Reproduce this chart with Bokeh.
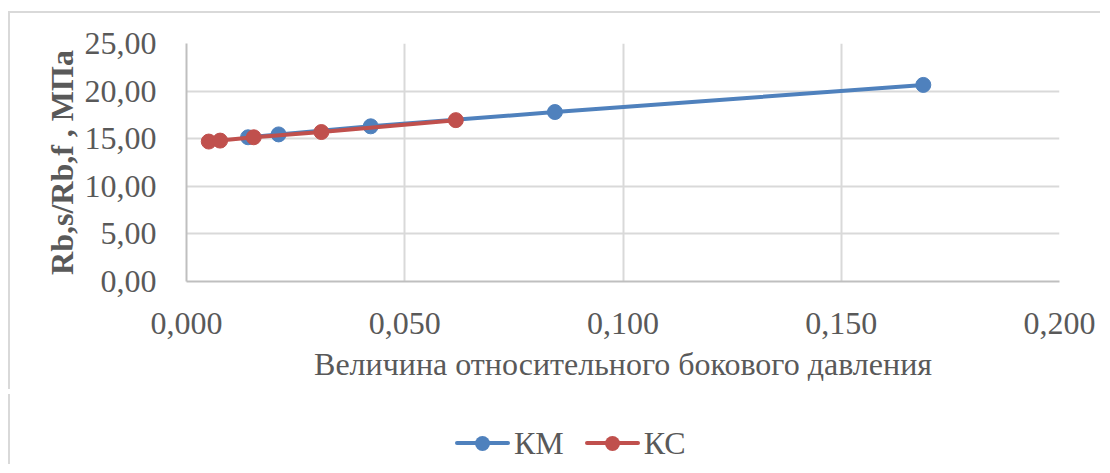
from bokeh.plotting import figure
from bokeh.layouts import column
from bokeh.models import Range1d, FixedTicker, CustomJSTickFormatter, Div
from bokeh.embed import file_html
from bokeh.resources import INLINE

# Data
km_x = [0.0141, 0.0211, 0.0422, 0.0844, 0.1688]
km_y = [15.15, 15.45, 16.30, 17.80, 20.65]
kc_x = [0.0051, 0.0077, 0.0154, 0.0309, 0.0617]
kc_y = [14.70, 14.80, 15.15, 15.70, 16.95]
x_ticks = [0.0, 0.05, 0.10, 0.15, 0.20]
y_ticks = [0, 5, 10, 15, 20, 25]
series_names = ["КМ", "КС"]
x_title = "Величина относительного бокового давления"
y_title = "Rb,s/Rb,f , МПа"

FONT = "Liberation Serif"
TXT = "#595959"
GRID = "#d9d9d9"
BLUE = "#4f81bd"
RED = "#c0504d"

fig = figure(frame_width=871, frame_height=236, output_backend="svg", toolbar_location=None,
             x_range=Range1d(0, 0.2), y_range=Range1d(0, 25),
             min_border_left=176, min_border_right=43, min_border_top=30, min_border_bottom=110)
fig.styles = {"border-left": "2px solid #d9d9d9", "border-top": "2px solid #d9d9d9",
              "margin-left": "8px", "margin-top": "11px"}
fig.outline_line_color = None
fig.background_fill_color = "white"
fig.border_fill_color = "white"

fig.xaxis.ticker = FixedTicker(ticks=x_ticks)
fig.yaxis.ticker = FixedTicker(ticks=y_ticks)
fig.xaxis.formatter = CustomJSTickFormatter(code="return tick.toFixed(3).replace('.', ',');")
fig.yaxis.formatter = CustomJSTickFormatter(code="return tick.toFixed(2).replace('.', ',');")

for ax in (fig.xaxis[0], fig.yaxis[0]):
    ax.major_tick_line_color = None
    ax.minor_tick_line_color = None
    ax.axis_line_color = "#bfbfbf"
    ax.axis_line_width = 2
    ax.major_label_text_font = FONT
    ax.major_label_text_font_size = "32px"
    ax.major_label_text_color = TXT
    ax.axis_label_text_font = FONT
    ax.axis_label_text_color = TXT

fig.xaxis.major_label_standoff = 25
fig.yaxis.major_label_standoff = 24
fig.xaxis.axis_label = x_title
fig.xaxis.axis_label_text_font_size = "32px"
fig.xaxis.axis_label_text_font_style = "normal"
fig.xaxis.axis_label_standoff = 9
fig.yaxis.axis_label = y_title
fig.yaxis.axis_label_text_font_size = "32px"
fig.yaxis.axis_label_text_font_style = "bold"
fig.yaxis.axis_label_standoff = 2

fig.xgrid.ticker = FixedTicker(ticks=x_ticks)
fig.ygrid.ticker = FixedTicker(ticks=y_ticks)
fig.grid.grid_line_color = GRID
fig.grid.grid_line_width = 2

fig.line(km_x, km_y, line_color=BLUE, line_width=4)
fig.scatter(km_x, km_y, size=15, fill_color=BLUE, line_color=BLUE)
fig.line(kc_x, kc_y, line_color=RED, line_width=4)
fig.scatter(kc_x, kc_y, size=15, fill_color=RED, line_color=RED)

# Legend strip below the chart (HTML text)
def legend_item(name, color, last=False):
    mr = "0px" if last else "21px"
    return (
        f'<span style="display:inline-flex;align-items:center;margin-right:{mr};height:38px">'
        f'<span style="position:relative;display:inline-block;width:55px;height:4px;'
        f'background:{color};border-radius:2px">'
        f'<span style="position:absolute;left:20px;top:-5.5px;width:15px;height:15px;'
        f'border-radius:50%;background:{color}"></span></span>'
        f'<span style="margin-left:4px;line-height:38px">{name}</span></span>'
    )

html = (
    f'<div style="position:relative;width:1090px;height:70px;font-family:\'{FONT}\';'
    f'font-size:32px;color:{TXT}">'
    f'<div style="position:absolute;left:445px;top:30px;display:flex;align-items:center;'
    f'white-space:nowrap">'
    + legend_item(series_names[0], BLUE)
    + legend_item(series_names[1], RED, last=True)
    + '</div></div>'
)
leg = Div(text=html, width=1092, height=70,
          styles={"border-left": "2px solid #d9d9d9", "margin-left": "8px"})

p = column(fig, leg, spacing=0)

open("out.html", "w").write(file_html(p, INLINE))
